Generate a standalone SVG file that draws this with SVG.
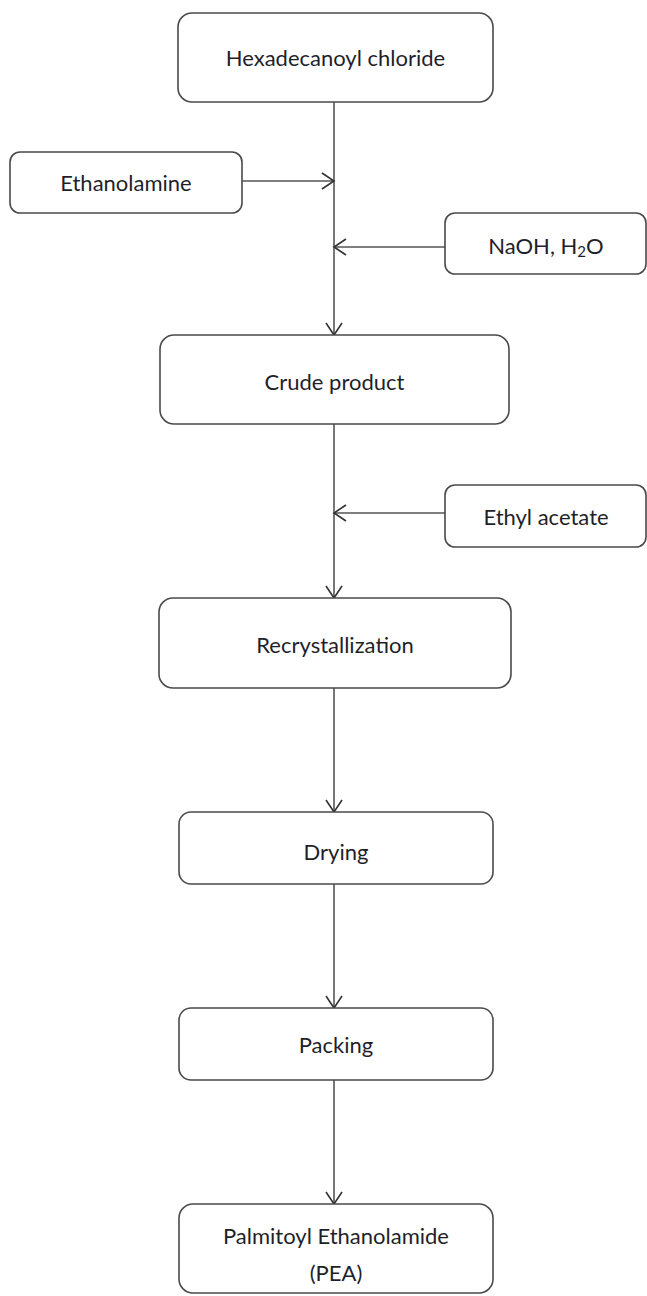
<svg xmlns="http://www.w3.org/2000/svg" width="647" height="1296" viewBox="0 0 647 1296">
<style>
.box{fill:#fff;stroke:#4a4a4a;stroke-width:1.6}
.lbl{font-family:Lato,"Open Sans","Liberation Sans",sans-serif;font-size:22px;fill:#1f1f2a;text-anchor:middle}
.con{stroke:#555;stroke-width:1.6;fill:none}
</style>
<defs>
<marker id="arr" markerUnits="userSpaceOnUse" markerWidth="16" markerHeight="18" viewBox="0 0 16 18" refX="13" refY="9" orient="auto">
<path d="M1,1 L13,9 L1,17" fill="none" stroke="#333" stroke-width="1.6"/>
</marker>
</defs>
<rect width="647" height="1296" fill="#fff"/>
<g id="connectors">
<line class="con" x1="334" y1="102" x2="334" y2="335" marker-end="url(#arr)"/>
<line class="con" x1="242" y1="181" x2="334" y2="181" marker-end="url(#arr)"/>
<line class="con" x1="445" y1="247" x2="334" y2="247" marker-end="url(#arr)"/>
<line class="con" x1="334" y1="424" x2="334" y2="598" marker-end="url(#arr)"/>
<line class="con" x1="445" y1="513" x2="334" y2="513" marker-end="url(#arr)"/>
<line class="con" x1="334" y1="688" x2="334" y2="812" marker-end="url(#arr)"/>
<line class="con" x1="334" y1="884" x2="334" y2="1008" marker-end="url(#arr)"/>
<line class="con" x1="334" y1="1080" x2="334" y2="1204" marker-end="url(#arr)"/>
</g>
<g id="hexadecanoyl">
<rect class="box" x="178" y="13" width="315" height="89" rx="14"/>
<text class="lbl" x="335.5" y="66">Hexadecanoyl chloride</text>
</g>
<g id="ethanolamine">
<rect class="box" x="10" y="152" width="232" height="61" rx="10"/>
<text class="lbl" x="126" y="191">Ethanolamine</text>
</g>
<g id="naoh">
<rect class="box" x="445" y="213" width="201" height="61" rx="10"/>
<text class="lbl" x="546" y="254">NaOH, H<tspan font-size="15" dy="3">2</tspan><tspan dy="-3">O</tspan></text>
</g>
<g id="crude">
<rect class="box" x="160" y="335" width="349" height="89" rx="14"/>
<text class="lbl" x="334.5" y="390">Crude product</text>
</g>
<g id="ethylacetate">
<rect class="box" x="445" y="485" width="201" height="62" rx="10"/>
<text class="lbl" x="546" y="525">Ethyl acetate</text>
</g>
<g id="recrystallization">
<rect class="box" x="159" y="598" width="352" height="90" rx="14"/>
<text class="lbl" x="335" y="653">Recrystallization</text>
</g>
<g id="drying">
<rect class="box" x="179" y="812" width="314" height="72" rx="12"/>
<text class="lbl" x="336" y="860">Drying</text>
</g>
<g id="packing">
<rect class="box" x="179" y="1008" width="314" height="72" rx="12"/>
<text class="lbl" x="336" y="1053">Packing</text>
</g>
<g id="pea">
<rect class="box" x="179" y="1204" width="314" height="89" rx="14"/>
<text class="lbl" x="336" y="1244">Palmitoyl Ethanolamide</text>
<text class="lbl" x="336" y="1281">(PEA)</text>
</g>
</svg>
